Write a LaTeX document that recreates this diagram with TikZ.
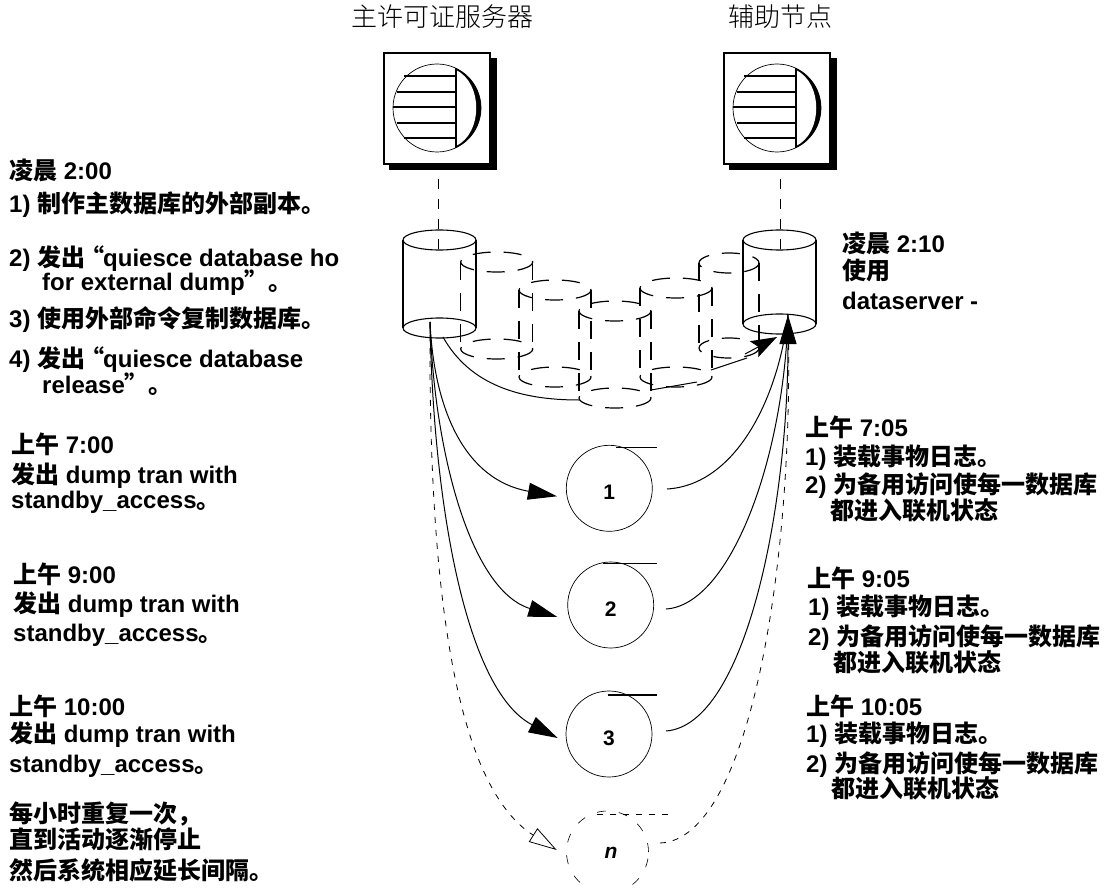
\documentclass[tikz,border=0pt]{standalone}
\usepackage{fontspec}
\setmainfont{Liberation Sans}[BoldFont={Liberation Sans Bold}]
\newfontfamily\zhbold{Noto Sans CJK SC Bold}
\newfontfamily\zhlight{Noto Sans CJK SC Light}
\usetikzlibrary{arrows.meta}
\newcommand{\zh}[1]{{\zhbold #1}}
\tikzset{
    note/.style={anchor=base west, inner sep=0pt, font=\fontsize{24}{24}\selectfont\bfseries},
    title/.style={anchor=base, inner sep=0pt, font=\fontsize{26}{26}\selectfont\zhlight},
    stepnode/.style={circle, draw, line width=.7pt, minimum size=86pt, inner sep=0pt, text height=22pt, text depth=0pt, font=\fontsize{21}{21}\selectfont\bfseries},
    dashednode/.style={stepnode, minimum size=82pt, text height=12pt, dash pattern=on 9pt off 13pt, line width=.6pt},
    flow/.style={line width=1pt},
    dashflow/.style={line width=.8pt, dash pattern=on 6pt off 7pt},
    tip/.style={-{Triangle[length=29pt,width=17pt]}},
    ghost/.style={line width=1.2pt, dash pattern=on 18pt off 13pt},
    link/.style={line width=.8pt, dash pattern=on 10pt off 10pt},
}
% server box with the disc icon
\newcommand{\serverbox}[3]{
    \begin{scope}[shift={(#1,#2)}]
        \fill (5,5) rectangle (113,117);
        \node[draw, line width=1.2pt, fill=white, minimum width=106pt, minimum height=111pt, inner sep=0pt] (#3) at (53,55.5) {};
        \begin{scope}
            \clip (72,0) rectangle (110,110);
            \fill (53,55) circle (44);
        \end{scope}
        \fill[white] (72,17) .. controls (99,30) and (99,80) .. (72,93) -- cycle;
        \draw[line width=.7pt] (53,55) circle (44);
        \foreach \y/\w in {23/-33, 39/-40, 54/-44, 70/-40, 85/-33}
            \draw[line width=1.2pt] (72,\y) -- ++(\w-19,0);
        \draw[line width=1.2pt] (72,15) -- (72,95);
    \end{scope}
}
% cylinder: centre x, top y, bottom y, half width, half height, style
\newcommand{\dbcyl}[6]{
    \draw[#6] (#1-#4,#2) -- (#1-#4,#3);
    \draw[#6] (#1+#4,#2) -- (#1+#4,#3);
    \draw[#6] (#1,#2) ellipse ({#4} and #5);
    \draw[#6] (#1,#3) ellipse ({#4} and #5);
}
\begin{document}
\begin{tikzpicture}[x=1pt, y=-1pt]
    \useasboundingbox (0,0) rectangle (1106,888);

    \node[title] (mainlabel) at (442,27) {主许可证服务器};
    \node[title] (auxlabel) at (780,27) {辅助节点};

    \serverbox{384}{53}{mainserver}
    \serverbox{724}{53}{auxserver}

    % databases
    \coordinate (maintop) at (438.5,240);
    \coordinate (mainbottom) at (430,322);
    \coordinate (auxtop) at (780,240);
    \coordinate (auxtip) at (788,315);
    \draw[link] (mainserver.south -| maintop) ++(0,14) -- (438.5,258);
    \draw[link] (auxserver.south -| auxtop) ++(0,14) -- (780,258);

    \dbcyl{439.5}{240}{328}{36.5}{10}{line width=1.1pt}
    \dbcyl{779.5}{240}{324}{36.5}{10}{line width=1.1pt}

    \dbcyl{496.7}{262}{349}{36}{10}{ghost}
    \dbcyl{555}{290}{377}{36}{10}{ghost}
    \dbcyl{615}{311}{398}{36}{10}{ghost}
    \dbcyl{676}{288}{377}{36}{10}{ghost}
    \dbcyl{729}{263}{348}{30}{10}{ghost}

    % steps
    \node[stepnode] (stepa) at (609.3,488.3) {1};
    \node[stepnode] (stepb) at (610.7,605) {2};
    \node[stepnode] (stepc) at (609,734) {3};
    \node[dashednode] (stepn) at (607.5,852) {\hspace*{7pt}\itshape n};
    \draw[line width=1.1pt] (616,447.7) -- (657,447.7);
    \draw[line width=1.1pt] (602.7,563.3) -- (657,563.3);
    \draw[line width=1.1pt] (607.7,695) -- (657,695);
    \draw[dashflow] (596.7,814.3) -- (670,814.3);

    % dump arrows
    \coordinate (tipa) at ([shift={(-9,8)}]stepa.west);
    \coordinate (tipb) at ([shift={(-10,12)}]stepb.west);
    \coordinate (tipc) at ([shift={(-8,4)}]stepc.west);
    \coordinate (tipn) at ([shift={(-9.5,-2)}]stepn.west);
    \draw[flow, tip] (mainbottom) .. controls (434,410) and (465,480) .. (tipa);
    \draw[flow, tip] (mainbottom) .. controls (434,450) and (470,590) .. (tipb);
    \draw[flow, tip] (mainbottom) .. controls (433,500) and (465,690) .. (tipc);
    \draw[dashflow, -{Triangle[open,length=28pt,width=16pt]}] (mainbottom) .. controls (428,620) and (462,790) .. (tipn);

    % load arrows
    \draw[flow] (667,489) .. controls (735,485) and (778,400) .. (auxtip);
    \draw[flow] (666,609) .. controls (730,605) and (784,460) .. (auxtip);
    \draw[flow, tip] (666,731) .. controls (745,725) and (788,510) .. (auxtip);
    \draw[dashflow] (660,843) .. controls (750,840) and (795,560) .. (auxtip);

    % external copy
    \coordinate (archend) at (579,400);
    \coordinate (archtip) at (777,337);
    \draw[flow] (443,337) .. controls (470,385) and (520,400) .. (archend);
    \draw[flow] (651,390) -- (697,382);
    \draw[flow] (711,370) -- (747,358);
    \draw[-{Stealth[length=26pt,width=18pt,inset=5pt]}, flow] (745,354) -- (archtip);

    % left notes
    \node[note] (ntwo) at (9,179) {\zh{凌晨} 2:00};
    \node[note] (nsteps) at (9,212) {1) \zh{制作主数据库的外部副本。}};
    \node[note] (nhold) at (9,266) {2) \zh{发出}\hspace{-5pt}\zh{“}\hspace{-1pt}quiesce database ho};
    \node[note] (nholdb) at (42,290) {for external dump\zh{”。}};
    \node[note] (ncopy) at (9,327) {3) \zh{使用外部命令复制数据库。}};
    \node[note] (nrel) at (9,367) {4) \zh{发出}\hspace{-5pt}\zh{“}\hspace{-1pt}quiesce database};
    \node[note] (nrelb) at (42,393) {release\zh{”。}};
    \node[note] (nseven) at (11,453) {\zh{上午} 7:00};
    \node[note] (nsevena) at (11,483) {\zh{发出} dump tran with};
    \node[note] (nsevenb) at (11,508) {standby\_access\zh{。}};
    \node[note] (nnine) at (13,583) {\zh{上午} 9:00};
    \node[note] (nninea) at (13,612) {\zh{发出} dump tran with};
    \node[note] (nnineb) at (13,641) {standby\_access\zh{。}};
    \node[note] (nten) at (9,715) {\zh{上午} 10:00};
    \node[note] (ntena) at (9,742) {\zh{发出} dump tran with};
    \node[note] (ntenb) at (9,772) {standby\_access\zh{。}};
    \node[note] (nhour) at (9,822) {\zh{每小时重复一次，}};
    \node[note] (nhoura) at (9,848) {\zh{直到活动逐渐停止}};
    \node[note] (nhourb) at (9,879) {\zh{然后系统相应延长间隔。}};

    % right notes
    \node[note] (rtwo) at (842,252) {\zh{凌晨} 2:10};
    \node[note] (rtwoa) at (842,279) {\zh{使用}};
    \node[note] (rtwob) at (842,309) {dataserver -};
    \node[note] (rseven) at (805,436) {\zh{上午} 7:05};
    \node[note] (rsevena) at (805,465) {1) \zh{装载事物日志。}};
    \node[note] (rsevenb) at (805,493) {2) \zh{为备用访问使每一数据库}};
    \node[note] (rsevenc) at (830,519) {\zh{都进入联机状态}};
    \node[note] (rnine) at (807,587) {\zh{上午} 9:05};
    \node[note] (rninea) at (808,615) {1) \zh{装载事物日志。}};
    \node[note] (rnineb) at (808,645) {2) \zh{为备用访问使每一数据库}};
    \node[note] (rninec) at (833,671) {\zh{都进入联机状态}};
    \node[note] (rten) at (806,715) {\zh{上午} 10:05};
    \node[note] (rtena) at (806,742) {1) \zh{装载事物日志。}};
    \node[note] (rtenb) at (806,772) {2) \zh{为备用访问使每一数据库}};
    \node[note] (rtenc) at (831,797) {\zh{都进入联机状态}};
\end{tikzpicture}
\end{document}
